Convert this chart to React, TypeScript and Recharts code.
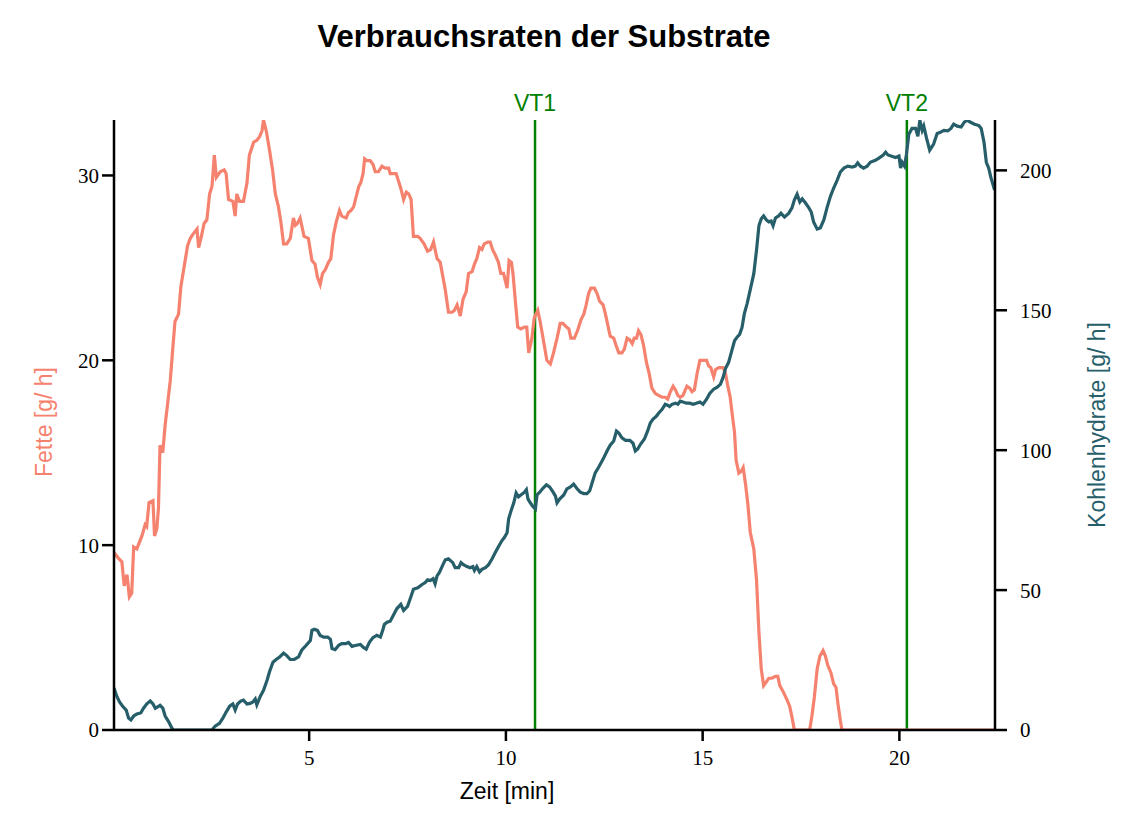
import { LineChart, Line, XAxis, YAxis, ReferenceLine } from 'recharts';

// Fette [g/h] over time [min]
const fatTime = [
  0.04, 0.15, 0.24, 0.3, 0.37, 0.43, 0.49, 0.54, 0.62, 0.75, 0.83, 0.87, 0.93, 1.03, 1.07, 1.13, 1.17, 1.21, 1.28, 1.34,
  1.4, 1.47, 1.54, 1.59, 1.68, 1.74, 1.81, 1.91, 1.98, 2.04, 2.15, 2.19, 2.25, 2.33, 2.4, 2.47, 2.53, 2.59, 2.64, 2.74,
  2.84, 2.89, 2.95, 3.06, 3.12, 3.16, 3.23, 3.33, 3.42, 3.48, 3.59, 3.67, 3.74, 3.8, 3.84, 3.91, 3.99, 4.07, 4.14, 4.22,
  4.28, 4.35, 4.43, 4.52, 4.6, 4.65, 4.7, 4.77, 4.87, 4.98, 5.07, 5.15, 5.21, 5.28, 5.34, 5.41, 5.49, 5.55, 5.62, 5.69,
  5.77, 5.83, 5.94, 6.0, 6.06, 6.13, 6.2, 6.26, 6.31, 6.37, 6.41, 6.47, 6.55, 6.62, 6.68, 6.76, 6.85, 6.93, 7.02, 7.06,
  7.15, 7.21, 7.27, 7.33, 7.4, 7.47, 7.53, 7.59, 7.65, 7.76, 7.82, 7.92, 8.01, 8.09, 8.16, 8.25, 8.33, 8.4, 8.46, 8.54,
  8.63, 8.69, 8.76, 8.84, 8.91, 8.99, 9.05, 9.14, 9.2, 9.26, 9.33, 9.39, 9.45, 9.54, 9.6, 9.66, 9.73, 9.81, 9.87, 9.94,
  10.03, 10.08, 10.14, 10.18, 10.24, 10.3, 10.38, 10.47, 10.53, 10.58, 10.66, 10.72, 10.81, 10.87, 10.96, 11.04, 11.13, 11.21, 11.3, 11.38,
  11.45, 11.54, 11.6, 11.65, 11.74, 11.82, 11.91, 11.98, 12.04, 12.1, 12.16, 12.25, 12.32, 12.38, 12.47, 12.53, 12.59, 12.65, 12.74, 12.8,
  12.87, 12.95, 13.01, 13.08, 13.15, 13.21, 13.26, 13.32, 13.37, 13.43, 13.5, 13.57, 13.64, 13.71, 13.8, 13.88, 13.97, 14.05, 14.11, 14.18,
  14.25, 14.31, 14.37, 14.43, 14.5, 14.56, 14.6, 14.67, 14.73, 14.79, 14.86, 14.93, 15.01, 15.1, 15.15, 15.21, 15.28, 15.33, 15.41, 15.47,
  15.52, 15.58, 15.64, 15.7, 15.75, 15.81, 15.85, 15.92, 15.98, 16.03, 16.09, 16.15, 16.21, 16.3, 16.37, 16.43, 16.49, 16.55, 16.62, 16.68,
  16.76, 16.85, 16.91, 16.96, 17.04, 17.13, 17.21, 17.27, 17.33, 17.72, 17.78, 17.84, 17.91, 17.98, 18.06, 18.12, 18.18, 18.26, 18.33, 18.39,
  18.44, 18.5, 18.54, 22.43,
];
const fatRate = [
  9.6, 9.3, 9.1, 7.8, 8.4, 7.2, 7.4, 9.9, 9.8, 10.5, 11.1, 11.0, 12.3, 12.4, 10.5, 10.9, 12.0, 15.4, 15.0, 16.5,
  17.6, 18.9, 20.8, 22.1, 22.5, 24.0, 24.9, 26.2, 26.6, 26.8, 27.1, 26.1, 26.6, 27.4, 27.6, 29.0, 29.4, 31.1, 29.9, 30.2,
  30.3, 30.1, 28.7, 28.6, 27.8, 29.0, 28.6, 28.6, 29.6, 31.1, 31.8, 31.9, 32.1, 32.4, 33.0, 32.4, 31.4, 30.3, 29.0, 28.3,
  27.5, 26.3, 26.3, 26.6, 27.7, 27.3, 27.4, 27.7, 26.7, 26.6, 25.4, 25.2, 24.5, 24.1, 24.7, 24.9, 25.3, 25.5, 26.8, 27.5,
  28.1, 27.8, 27.7, 28.0, 28.1, 28.3, 28.9, 29.4, 29.6, 30.1, 30.9, 30.8, 30.8, 30.6, 30.2, 30.2, 30.5, 30.4, 30.4, 30.1,
  30.1, 30.1, 29.7, 29.3, 28.7, 29.1, 29.0, 28.7, 26.7, 26.7, 26.6, 26.3, 25.9, 26.0, 26.4, 25.5, 25.3, 24.5, 23.8, 22.6,
  22.6, 22.7, 23.0, 22.4, 23.3, 23.7, 24.7, 24.8, 25.2, 25.5, 26.1, 26.0, 26.3, 26.4, 26.4, 26.0, 25.7, 25.3, 24.7, 24.7,
  23.9, 25.4, 25.3, 24.7, 23.2, 21.8, 21.7, 21.8, 21.8, 20.4, 21.2, 22.3, 22.7, 22.1, 21.0, 20.0, 19.8, 20.4, 21.2, 22.0,
  22.0, 21.8, 21.7, 21.2, 21.2, 21.6, 22.2, 22.5, 23.0, 23.6, 23.9, 23.9, 23.6, 23.2, 23.0, 22.5, 21.9, 21.3, 21.2, 20.8,
  20.4, 20.4, 20.6, 21.2, 21.1, 20.9, 21.2, 21.2, 21.6, 21.4, 20.8, 19.9, 19.3, 18.5, 18.2, 18.1, 18.0, 18.0, 17.9, 18.3,
  18.6, 18.4, 18.1, 18.0, 18.1, 18.4, 18.6, 18.5, 18.3, 18.4, 19.3, 20.0, 20.0, 20.0, 19.7, 19.6, 19.1, 19.5, 19.6, 19.6,
  19.6, 19.3, 18.6, 18.0, 17.1, 16.1, 14.6, 13.9, 14.0, 14.2, 13.3, 12.2, 10.7, 9.8, 8.1, 5.3, 3.3, 2.4, 2.6, 2.8,
  2.8, 2.9, 2.9, 2.4, 2.1, 1.7, 1.3, 0.7, 0, 0, 0.8, 1.8, 3.3, 4.0, 4.3, 4.0, 3.5, 3.1, 2.5, 2.3,
  1.4, 0.5, 0, 0,
];

// Kohlenhydrate [g/h] over time [min]
const carbTime = [
  0.04, 0.11, 0.18, 0.26, 0.35, 0.41, 0.47, 0.54, 0.62, 0.72, 0.79, 0.87, 0.96, 1.03, 1.09, 1.15, 1.21, 1.28, 1.34, 1.43,
  1.51, 1.55, 2.53, 2.61, 2.72, 2.81, 2.89, 2.98, 3.06, 3.12, 3.18, 3.26, 3.33, 3.42, 3.5, 3.57, 3.63, 3.67, 3.76, 3.84,
  3.93, 3.99, 4.08, 4.16, 4.25, 4.35, 4.43, 4.52, 4.62, 4.73, 4.81, 4.92, 5.03, 5.07, 5.13, 5.21, 5.28, 5.37, 5.47, 5.54,
  5.58, 5.66, 5.75, 5.83, 5.94, 6.0, 6.09, 6.17, 6.3, 6.38, 6.45, 6.53, 6.62, 6.72, 6.81, 6.87, 6.91, 6.98, 7.06, 7.15,
  7.23, 7.33, 7.4, 7.5, 7.57, 7.65, 7.76, 7.87, 7.95, 8.01, 8.08, 8.15, 8.2, 8.25, 8.31, 8.4, 8.46, 8.54, 8.65, 8.71,
  8.8, 8.86, 8.92, 9.01, 9.09, 9.16, 9.2, 9.26, 9.33, 9.39, 9.48, 9.56, 9.65, 9.73, 9.81, 9.9, 9.96, 10.03, 10.07, 10.13,
  10.2, 10.26, 10.32, 10.41, 10.47, 10.52, 10.56, 10.62, 10.69, 10.75, 10.79, 10.86, 10.94, 11.03, 11.11, 11.2, 11.26, 11.3, 11.37, 11.47,
  11.55, 11.64, 11.72, 11.81, 11.89, 11.98, 12.06, 12.13, 12.19, 12.27, 12.36, 12.47, 12.57, 12.65, 12.74, 12.81, 12.87, 12.95, 13.04, 13.15,
  13.23, 13.29, 13.35, 13.42, 13.52, 13.6, 13.67, 13.74, 13.82, 13.88, 13.97, 14.05, 14.11, 14.16, 14.22, 14.31, 14.37, 14.43, 14.5, 14.59,
  14.67, 14.76, 14.84, 14.93, 15.01, 15.1, 15.18, 15.28, 15.37, 15.45, 15.52, 15.58, 15.66, 15.75, 15.81, 15.87, 15.94, 16.0, 16.06, 16.13,
  16.21, 16.3, 16.37, 16.43, 16.49, 16.55, 16.62, 16.68, 16.74, 16.79, 16.85, 16.93, 16.99, 17.08, 17.19, 17.27, 17.33, 17.4, 17.47, 17.53,
  17.61, 17.7, 17.76, 17.82, 17.91, 17.99, 18.08, 18.16, 18.25, 18.33, 18.42, 18.5, 18.59, 18.69, 18.8, 18.88, 18.94, 19.01, 19.09, 19.18,
  19.26, 19.39, 19.48, 19.59, 19.65, 19.71, 19.79, 19.9, 19.99, 20.03, 20.07, 20.13, 20.18, 20.24, 20.32, 20.41, 20.47, 20.52, 20.58, 20.62,
  20.69, 20.77, 20.87, 20.96, 21.04, 21.13, 21.23, 21.31, 21.38, 21.47, 21.57, 21.65, 21.72, 21.81, 21.91, 22.02, 22.08, 22.15, 22.21, 22.27,
  22.33, 22.42,
];
const carbRate = [
  15.0, 12.1, 10.0, 8.5, 7.1, 4.3, 3.6, 5.0, 5.7, 6.1, 7.8, 9.3, 10.4, 9.3, 7.8, 8.3, 8.8, 7.8, 5.0, 2.9,
  0.7, 0, 0, 1.4, 2.4, 4.3, 6.4, 8.5, 9.3, 7.1, 9.3, 10.3, 10.7, 9.3, 9.5, 10.0, 11.1, 9.0, 12.1, 14.2,
  17.8, 20.7, 24.2, 25.2, 26.1, 27.5, 26.6, 25.2, 25.2, 26.1, 28.5, 30.2, 32.0, 35.6, 36.0, 35.6, 33.8, 33.2, 33.2, 32.4,
  29.1, 28.7, 30.3, 30.9, 30.9, 31.3, 29.9, 30.2, 30.6, 29.5, 28.9, 31.3, 33.0, 33.8, 33.2, 35.6, 37.7, 38.5, 38.9, 41.3,
  43.4, 44.9, 42.7, 44.2, 47.0, 50.3, 50.8, 52.0, 52.7, 53.7, 53.4, 54.1, 52.3, 55.1, 56.3, 59.1, 60.8, 61.2, 59.8, 58.0,
  58.0, 59.8, 59.1, 58.4, 58.0, 58.4, 57.0, 58.4, 56.5, 57.4, 58.0, 59.1, 61.2, 63.4, 65.5, 67.7, 68.8, 70.5, 75.5, 78.3,
  81.2, 84.7, 83.3, 84.3, 85.0, 85.9, 82.6, 81.2, 79.8, 79.0, 84.0, 85.0, 86.4, 87.6, 86.9, 85.0, 83.6, 81.2, 82.6, 84.0,
  86.2, 86.9, 87.9, 86.2, 85.0, 84.5, 84.5, 85.5, 88.3, 91.9, 94.0, 96.8, 99.7, 101.8, 103.3, 106.8, 106.1, 104.4, 103.5, 103.5,
  102.5, 99.7, 100.4, 102.1, 104.0, 106.8, 109.7, 111.1, 112.1, 113.2, 114.6, 116.4, 116.1, 115.6, 116.4, 116.8, 116.4, 117.5, 117.2, 116.8,
  116.8, 116.4, 116.8, 117.2, 116.4, 118.2, 120.3, 121.8, 122.5, 123.5, 126.0, 129.2, 131.4, 136.0, 139.1, 140.3, 141.4, 143.8, 148.8, 152.4,
  157.4, 163.1, 171.6, 180.2, 182.7, 183.7, 182.3, 181.6, 181.9, 180.2, 183.0, 183.7, 184.7, 183.3, 184.7, 186.6, 189.4, 191.5, 188.7, 189.8,
  188.4, 186.6, 185.1, 181.6, 179.0, 179.4, 182.3, 186.6, 190.8, 193.7, 196.5, 199.4, 200.8, 201.5, 201.2, 201.5, 202.7, 201.5, 200.8, 201.5,
  202.9, 203.6, 204.4, 205.5, 206.5, 205.5, 205.1, 204.6, 205.1, 200.8, 202.9, 201.5, 205.8, 212.9, 215.0, 215.0, 212.2, 217.9, 214.3, 215.8,
  211.5, 207.2, 209.4, 213.2, 213.6, 214.3, 214.1, 215.0, 216.5, 215.8, 215.5, 217.2, 217.9, 217.2, 216.5, 216.0, 215.0, 210.1, 202.9, 200.8,
  197.2, 193.0,
];

const timeTicks = [5, 10, 15, 20];
const fatTicks = [0, 10, 20, 30];
const carbTicks = [0, 50, 100, 150, 200];
const thresholds = [
  { name: 'VT1', t: 10.74 },
  { name: 'VT2', t: 20.19 },
];

const FAT_COLOR = '#f5826e';
const CARB_COLOR = '#265e6a';
const VT_COLOR = '#008000';

const fatData = fatTime.map((t, i) => ({ t, v: fatRate[i] }));
const carbData = carbTime.map((t, i) => ({ t, v: carbRate[i] }));

const tickFont = { fontFamily: '"Liberation Serif", serif', fontSize: 21, fill: '#000' };
const axisStroke = { stroke: '#000', strokeWidth: 2.5 };
const sans = '"Liberation Sans", Arial, sans-serif';

export default function App() {
  return (
    <div style={{ position: 'relative', width: 1124, height: 812 }}>
      <div
        style={{
          position: 'absolute', left: 536, top: 29, transform: 'translate(-50%, -50%)',
          fontFamily: sans, fontWeight: 'bold', fontSize: 31, whiteSpace: 'nowrap', color: '#000',
        }}
      >
        Verbrauchsraten der Substrate
      </div>
      <div
        style={{
          position: 'absolute', left: 36, top: 414, transform: 'translate(-50%, -50%) rotate(-90deg)',
          fontFamily: sans, fontSize: 23, whiteSpace: 'nowrap', color: FAT_COLOR,
        }}
      >
        Fette [g/ h]
      </div>
      <div
        style={{
          position: 'absolute', left: 1089, top: 417, transform: 'translate(-50%, -50%) rotate(-90deg)',
          fontFamily: sans, fontSize: 23, whiteSpace: 'nowrap', color: CARB_COLOR,
        }}
      >
        Kohlenhydrate [g/ h]
      </div>
      <div
        style={{
          position: 'absolute', left: 499, top: 783, transform: 'translate(-50%, -50%)',
          fontFamily: sans, fontSize: 23, whiteSpace: 'nowrap', color: '#000',
        }}
      >
        Zeit [min]
      </div>
      <LineChart width={1124} height={812} margin={{ top: 112, right: 57, bottom: 60, left: 46 }}>
        <XAxis
          type="number"
          dataKey="t"
          domain={[0.04, 22.43]}
          ticks={timeTicks}
          allowDataOverflow
          height={30}
          tickSize={11}
          tickMargin={9}
          axisLine={axisStroke}
          tickLine={axisStroke}
          tick={tickFont}
        />
        <YAxis
          yAxisId="left"
          orientation="left"
          domain={[0, 33]}
          ticks={fatTicks}
          allowDataOverflow
          width={60}
          tickSize={12}
          tickMargin={3}
          axisLine={axisStroke}
          tickLine={axisStroke}
          tick={tickFont}
        />
        <YAxis
          yAxisId="right"
          orientation="right"
          domain={[0, 218]}
          ticks={carbTicks}
          allowDataOverflow
          width={80}
          tickSize={12}
          tickMargin={13}
          axisLine={axisStroke}
          tickLine={axisStroke}
          tick={tickFont}
        />
        {thresholds.map((vt) => (
          <ReferenceLine
            key={vt.name}
            x={vt.t}
            yAxisId="left"
            stroke={VT_COLOR}
            strokeWidth={2.5}
            label={{ value: vt.name, position: 'top', fill: VT_COLOR, fontSize: 23, fontFamily: sans, offset: 9 }}
          />
        ))}
        <Line
          data={fatData}
          dataKey="v"
          yAxisId="left"
          type="linear"
          stroke={FAT_COLOR}
          strokeWidth={3.2}
          dot={false}
          isAnimationActive={false}
        />
        <Line
          data={carbData}
          dataKey="v"
          yAxisId="right"
          type="linear"
          stroke={CARB_COLOR}
          strokeWidth={3.2}
          dot={false}
          isAnimationActive={false}
        />
      </LineChart>
    </div>
  );
}
